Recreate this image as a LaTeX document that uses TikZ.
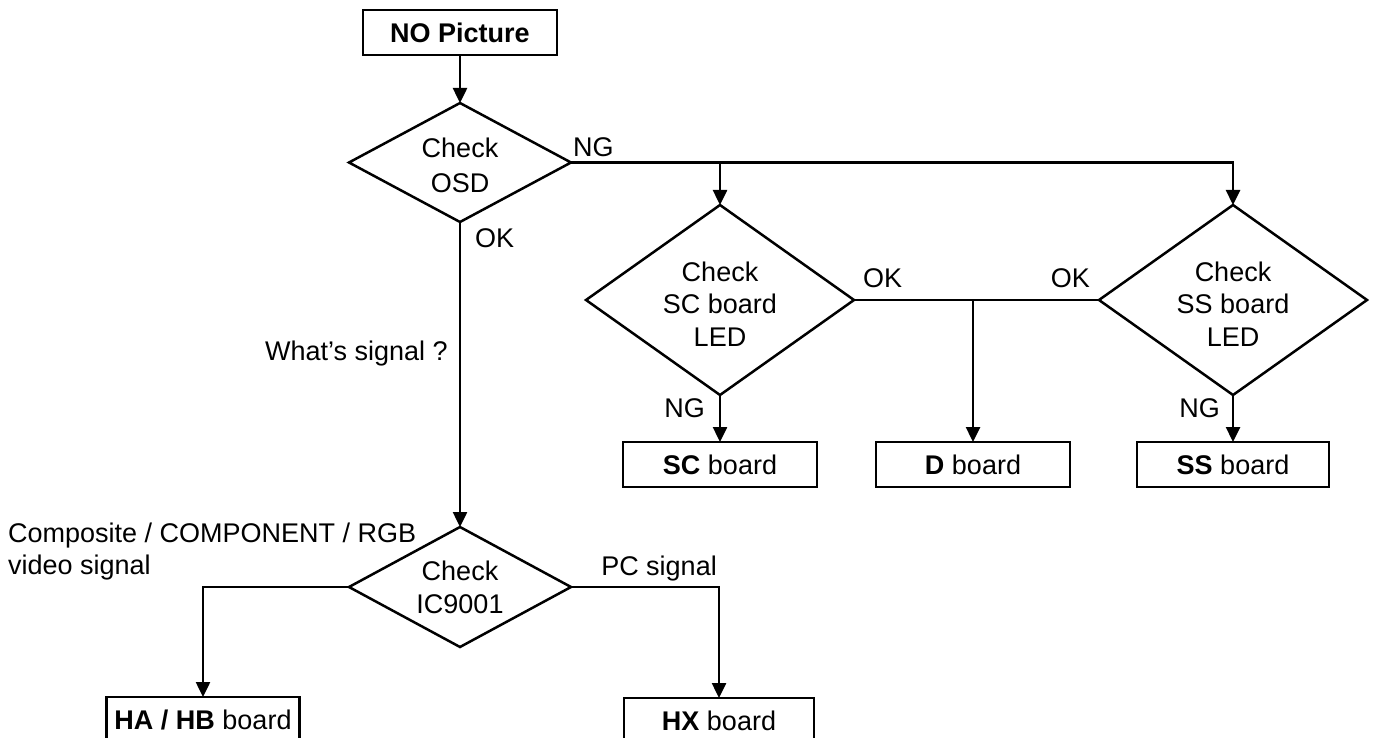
\documentclass[tikz,border=0pt]{standalone}
\usepackage{fontspec}
\setmainfont{Liberation Sans}
\usetikzlibrary{shapes.geometric,arrows.meta}
\begin{document}
\begin{tikzpicture}[x=1pt,y=-1pt,
  every node/.style={font=\fontsize{27}{33}\selectfont},
  line/.style={line width=2.5pt},
  arr/.style={line width=2.5pt,-{Triangle[length=15pt,width=14pt]}},
  boxn/.style={draw,line width=2.5pt,inner sep=0pt,outer sep=0pt,minimum width=194pt,minimum height=45pt},
  dia/.style={draw,line width=2.5pt,diamond,inner sep=0pt,outer sep=0pt},
  lbl/.style={inner sep=0pt}]
\clip (0,0) rectangle (1375,738);
\fill[white] (0,0) rectangle (1375,738);
% nodes
\node[boxn] (nopic) at (460,32.5) {\textbf{NO Picture}};
\node[dia,minimum width=222pt,minimum height=119pt] (osd) at (460,162.5) {};
\node[align=center,inner sep=0pt,font=\fontsize{27}{35}\selectfont] (osdt) at (460,165) {Check\\OSD};
\node[dia,minimum width=268pt,minimum height=190pt] (sc) at (720,300) {};
\node[align=center,inner sep=0pt,font=\fontsize{27}{32.5}\selectfont] (sct) at (720,304) {Check\\SC board\\LED};
\node[dia,minimum width=268pt,minimum height=190pt] (ss) at (1233,300) {};
\node[align=center,inner sep=0pt,font=\fontsize{27}{32.5}\selectfont] (sst) at (1233,304) {Check\\SS board\\LED};
\node[boxn] (scb) at (720,464.5) {\textbf{SC} board};
\node[boxn] (db) at (973,464.5) {\textbf{D} board};
\node[boxn,minimum width=192pt] (ssb) at (1233,464.5) {\textbf{SS} board};
\node[dia,minimum width=222pt,minimum height=120pt] (ic) at (460,587) {};
\node[align=center,inner sep=0pt,font=\fontsize{27}{33}\selectfont] (ict) at (460,587) {Check\\IC9001};
\node[boxn,minimum width=193pt] (hahb) at (203,719.5) {\textbf{HA / HB} board};
\node[boxn,minimum width=190pt] (hx) at (719,720.5) {\textbf{HX} board};
% connectors
\draw[arr] (nopic.south) -- (osd.north);
\draw[arr] (osd.east) -| (ss.north);
\draw[arr] (sc.north |- osd.east) -- (sc.north);
\draw[line] (sc.east) -- (ss.west);
\draw[arr] (db.north |- sc.east) -- (db.north);
\draw[arr] (sc.south) -- (scb.north);
\draw[arr] (ss.south) -- (ssb.north);
\draw[arr] (osd.south) -- (ic.north);
\draw[arr] (ic.west) -| (hahb.north);
\draw[arr] (ic.east) -| (hx.north);
% labels
\node[lbl,anchor=base west] (l1) at (573,157) {NG};
\node[lbl,anchor=base west] (l2) at (475,247) {OK};
\node[lbl,anchor=base east] (l3) at (448,360) {What’s signal ?};
\node[lbl,anchor=base west] (l4) at (863,287) {OK};
\node[lbl,anchor=base east] (l5) at (1090,287) {OK};
\node[lbl,anchor=base east] (l6) at (705,417) {NG};
\node[lbl,anchor=base east] (l7) at (1220,417) {NG};
\node[lbl,anchor=base west] (l8) at (8,542) {Composite / COMPONENT / RGB};
\node[lbl,anchor=base west] (l9) at (8,574) {video signal};
\node[lbl,anchor=base east] (l10) at (717,575) {PC signal};
\end{tikzpicture}
\end{document}
